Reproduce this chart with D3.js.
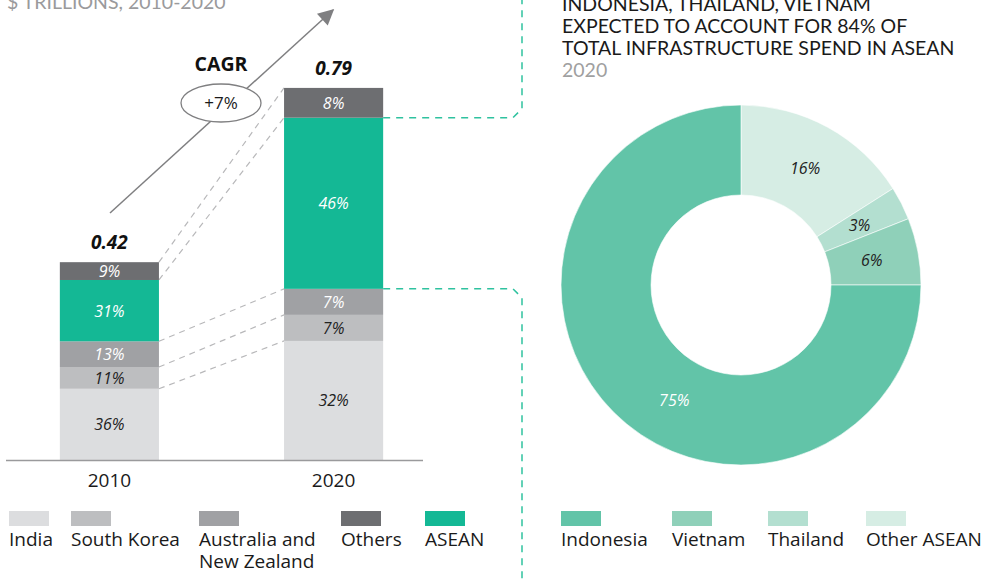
<!DOCTYPE html>
<html><head><meta charset="utf-8">
<script src="https://cdn.jsdelivr.net/npm/d3@7"></script>
<style>
body{margin:0;background:#fff;}
svg text{font-family:"Open Sans","Noto Sans",sans-serif;}
svg text.lato{font-family:Lato,"Noto Sans",sans-serif;}
</style></head>
<body><svg id="chart" width="1007" height="581"></svg>
<script>
// ---- data ----
const years = ["2010", "2020"];
const totals = [0.42, 0.79];
const barSeries = ["India", "South Korea", "Australia and New Zealand", "ASEAN", "Others"];
const share2010 = [36, 11, 13, 31, 9];
const share2020 = [32, 7, 7, 46, 8];
const barColors = ["#dcdddf", "#bdbec0", "#a0a1a4", "#14b895", "#6d6e71"];
const barLabelColors = ["#222", "#222", "#fff", "#fff", "#fff"];
const legendOrder = ["India", "South Korea", "Australia and New Zealand", "Others", "ASEAN"];
const cagrLabel = "+7%";

const pieCats = ["Other ASEAN", "Thailand", "Vietnam", "Indonesia"];
const pieValues = [16, 3, 6, 75];
const pieColors = ["#d6ede4", "#b3dfd0", "#8fd0b9", "#62c4a8"];
const pieLabelColors = ["#222", "#222", "#222", "#fff"];
const pieLegendOrder = ["Indonesia", "Vietnam", "Thailand", "Other ASEAN"];

const leftTitle = "$ TRILLIONS, 2010-2020";
const rightTitle = ["INDONESIA, THAILAND, VIETNAM", "EXPECTED TO ACCOUNT FOR 84% OF", "TOTAL INFRASTRUCTURE SPEND IN ASEAN"];
const rightSub = "2020";

// ---- setup ----
const svg = d3.select("#chart");
const teal = "#2fc29f";

// titles
svg.append("text").attr("class", "lato").attr("x", 7).attr("y", 9).attr("font-size", 19.5).attr("fill", "#9a9a9c").text(leftTitle);
rightTitle.forEach((t, i) => {
  svg.append("text").attr("class", "lato").attr("x", 562).attr("y", 11 + i * 22).attr("font-size", 19.5).attr("fill", "#1a1a1a").text(t);
});
svg.append("text").attr("class", "lato").attr("x", 562).attr("y", 77).attr("font-size", 19.5).attr("fill", "#a0a0a0").text(rightSub);

// scales
const x = d3.scaleBand().domain(years).range([15, 428]).paddingInner(0.558).paddingOuter(0.2);
const y = d3.scaleLinear().domain([0, 0.8]).range([460, 460 - 0.8 * 471]);

// stacked data
const shares = [share2010, share2020];
const stacks = years.map((yr, yi) => {
  let cum = 0;
  return barSeries.map((s, si) => {
    const v = totals[yi] * shares[yi][si] / 100;
    const d = {year: yr, series: s, si, pct: shares[yi][si], y0: cum, y1: cum + v};
    cum += v;
    return d;
  });
});

// dashed grey connectors (top of each segment)
const bw = x.bandwidth();
const connG = svg.append("g");
barSeries.forEach((s, si) => {
  const a = stacks[0][si], b = stacks[1][si];
  connG.append("line")
    .attr("x1", x("2010") + bw).attr("y1", y(a.y1))
    .attr("x2", x("2020")).attr("y2", y(b.y1))
    .attr("stroke", "#b8b8ba").attr("stroke-width", 1.2).attr("stroke-dasharray", "6,5");
});

// bars
stacks.forEach(st => {
  const g = svg.append("g");
  g.selectAll("rect").data(st).join("rect")
    .attr("x", d => x(d.year)).attr("width", bw)
    .attr("y", d => y(d.y1)).attr("height", d => y(d.y0) - y(d.y1))
    .attr("fill", d => barColors[d.si]);
  g.selectAll("text").data(st).join("text")
    .attr("x", d => x(d.year) + bw / 2).attr("y", d => (y(d.y0) + y(d.y1)) / 2 + 6)
    .attr("text-anchor", "middle").attr("font-size", 16).attr("font-style", "italic")
    .attr("fill", d => barLabelColors[d.si]).text(d => d.pct + "%");
});

// totals
years.forEach((yr, i) => {
  svg.append("text").attr("x", x(yr) + bw / 2).attr("y", y(totals[i]) - 13)
    .attr("text-anchor", "middle").attr("font-size", 19).attr("font-weight", "bold")
    .attr("font-style", "italic").attr("fill", "#111").text(totals[i].toFixed(2));
});

// axis
const axis = svg.append("g").attr("transform", "translate(0,460)")
  .call(d3.axisBottom(x).tickSize(0).tickPadding(14));
axis.select(".domain").attr("d", "M6,0.5H423").attr("stroke", "#9a9a9c").attr("stroke-width", 1.5);
axis.selectAll("text").attr("font-size", 19).attr("fill", "#1a1a1a").attr("font-family", "'Open Sans', sans-serif");

// CAGR arrow
const defs = svg.append("defs");
defs.append("marker").attr("id", "arr").attr("viewBox", "0 0 10 10").attr("refX", 9).attr("refY", 5)
  .attr("markerWidth", 18).attr("markerHeight", 16).attr("markerUnits", "userSpaceOnUse")
  .attr("orient", "auto")
  .append("path").attr("d", "M0,0L10,5L0,10Z").attr("fill", "#7f7f81");
svg.append("line").attr("x1", 110).attr("y1", 213).attr("x2", 333).attr("y2", 10)
  .attr("stroke", "#7f7f81").attr("stroke-width", 1.5).attr("marker-end", "url(#arr)");
svg.append("ellipse").attr("cx", 221).attr("cy", 103).attr("rx", 40).attr("ry", 19)
  .attr("fill", "#fff").attr("stroke", "#7f7f81").attr("stroke-width", 1.3);
svg.append("text").attr("x", 221).attr("y", 109).attr("text-anchor", "middle").attr("font-size", 17)
  .attr("fill", "#1a1a1a").text(cagrLabel);
svg.append("text").attr("x", 221).attr("y", 71).attr("text-anchor", "middle").attr("font-size", 19.5)
  .attr("font-weight", "bold").attr("fill", "#111").text("CAGR");

// teal connectors
const aseanTop = y(stacks[1][3].y1), aseanBot = y(stacks[1][3].y0);
const xr = x("2020") + bw;
svg.append("path").attr("d", `M${xr},${aseanTop}H513L522,${aseanTop - 9}V0`)
  .attr("fill", "none").attr("stroke", teal).attr("stroke-width", 1.5).attr("stroke-dasharray", "7,6");
svg.append("path").attr("d", `M${xr},${aseanBot}H513L522,${aseanBot + 9}V581`)
  .attr("fill", "none").attr("stroke", teal).attr("stroke-width", 1.5).attr("stroke-dasharray", "7,6");

// left legend
const legX = [9, 71, 199, 341, 425];
legendOrder.forEach((name, i) => {
  const si = barSeries.indexOf(name);
  svg.append("rect").attr("x", legX[i]).attr("y", 511).attr("width", 40).attr("height", 15).attr("fill", barColors[si]);
  const lines = name === "Australia and New Zealand" ? ["Australia and", "New Zealand"] : [name];
  lines.forEach((ln, k) => {
    svg.append("text").attr("x", legX[i]).attr("y", 546 + k * 22).attr("font-size", 19)
      .attr("fill", "#1a1a1a").text(ln);
  });
});

// donut
const cx = 741, cy = 285;
const pie = d3.pie().sort(null).value(d => d)(pieValues);
const arc = d3.arc().innerRadius(90).outerRadius(180);
const dg = svg.append("g").attr("transform", `translate(${cx},${cy})`);
dg.selectAll("path").data(pie).join("path").attr("d", arc)
  .attr("fill", (d, i) => pieColors[i]).attr("stroke", "#fff").attr("stroke-width", 0.6);
const labArc = d3.arc().innerRadius(133).outerRadius(133);
dg.selectAll("text").data(pie).join("text")
  .attr("transform", (d, i) => {
    let dd = d;
    if (pieValues[i] > 50) { const m = (d.startAngle + d.endAngle) / 2 - 0.26; dd = {startAngle: m, endAngle: m}; }
    const c = labArc.centroid(dd);
    return `translate(${c[0]},${c[1] + 6})`;
  })
  .attr("text-anchor", "middle").attr("font-size", 16).attr("font-style", "italic")
  .attr("fill", (d, i) => pieLabelColors[i]).text((d, i) => pieValues[i] + "%");

// right legend
const rlegX = [561, 672, 768, 866];
pieLegendOrder.forEach((name, i) => {
  const ci = pieCats.indexOf(name);
  svg.append("rect").attr("x", rlegX[i]).attr("y", 511).attr("width", 40).attr("height", 15).attr("fill", pieColors[ci]);
  svg.append("text").attr("x", rlegX[i]).attr("y", 546).attr("font-size", 19).attr("fill", "#1a1a1a").text(name);
});
</script></body></html>
